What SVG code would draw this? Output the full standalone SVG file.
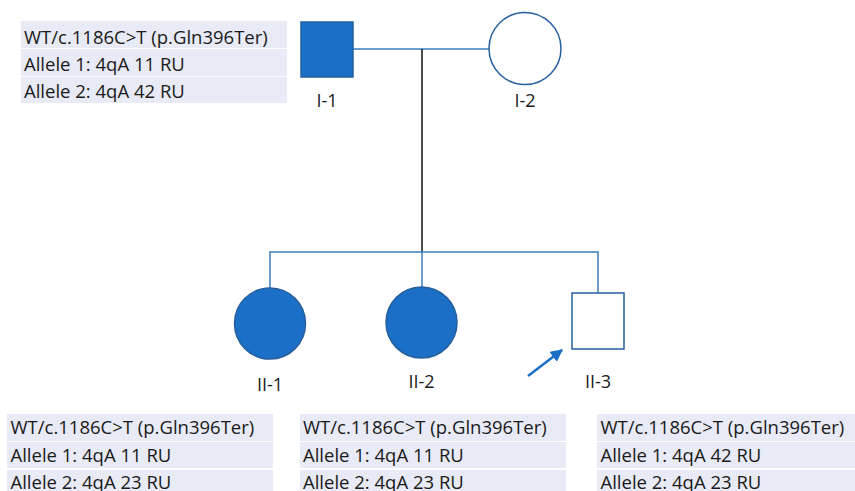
<svg xmlns="http://www.w3.org/2000/svg" width="855" height="491" viewBox="0 0 855 491">
<style>
  text { font-family: "Open Sans", "Noto Sans", "DejaVu Sans", sans-serif; fill: #1a1a1a; }
  .cell { fill: #e8eaf5; }
  .row { font-size: 18.5px; }
  .lbl { font-size: 18px; text-anchor: middle; }
  .aff { fill: #1b6fc6; stroke: #255f9e; stroke-width: 1.5; }
  .unaff { fill: #ffffff; stroke: #255f9e; stroke-width: 1.5; }
  .blue { stroke: #3a7cbf; stroke-width: 1.5; fill: none; }
  .black { stroke: #111111; stroke-width: 1.5; fill: none; }
</style>
<defs>
  <marker id="ah" viewBox="0 0 10 10" refX="9" refY="5" markerWidth="5" markerHeight="5" orient="auto" markerUnits="strokeWidth">
    <path d="M0,0 L10,5 L0,10 z" fill="#1b6fc6"/>
  </marker>
</defs>
<rect width="855" height="491" fill="#ffffff"/>

<g id="connectors">
  <line class="blue" x1="353" y1="49" x2="489" y2="49"/>
  <line class="black" x1="422" y1="49" x2="422" y2="252"/>
  <polyline class="blue" points="270,288 270,252 598,252 598,293"/>
  <line class="blue" x1="422" y1="252" x2="422" y2="287"/>
  <line x1="528" y1="376" x2="562" y2="350" stroke="#1b6fc6" stroke-width="2.5" marker-end="url(#ah)"/>
</g>

<g id="table-I-1">
  <rect class="cell" x="21" y="21" width="266" height="27"/>
  <rect class="cell" x="21" y="49" width="266" height="27"/>
  <rect class="cell" x="21" y="77" width="266" height="26"/>
  <text class="row" x="24" y="44">WT/c.1186C&gt;T (p.Gln396Ter)</text>
  <text class="row" x="24" y="71">Allele 1: 4qA 11 RU</text>
  <text class="row" x="24" y="98">Allele 2: 4qA 42 RU</text>
</g>

<g id="I-1">
  <rect class="aff" x="301" y="22" width="52" height="55"/>
  <text class="lbl" x="327" y="107">I-1</text>
</g>

<g id="I-2">
  <circle class="unaff" cx="525" cy="48.5" r="36"/>
  <text class="lbl" x="525" y="107">I-2</text>
</g>

<g id="II-1">
  <circle class="aff" cx="270" cy="323.5" r="35.5"/>
  <text class="lbl" x="270" y="391">II-1</text>
</g>

<g id="II-2">
  <circle class="aff" cx="421.5" cy="322.5" r="35.5"/>
  <text class="lbl" x="421.5" y="388">II-2</text>
</g>

<g id="II-3">
  <rect class="unaff" x="572" y="293" width="52" height="56"/>
  <text class="lbl" x="598" y="388">II-3</text>
</g>

<g id="table-II-1">
  <rect class="cell" x="7" y="414" width="266" height="27"/>
  <rect class="cell" x="7" y="442" width="266" height="26"/>
  <rect class="cell" x="7" y="470" width="266" height="21"/>
  <text class="row" x="10.5" y="434">WT/c.1186C&gt;T (p.Gln396Ter)</text>
  <text class="row" x="10.5" y="462">Allele 1: 4qA 11 RU</text>
  <text class="row" x="10.5" y="489">Allele 2: 4qA 23 RU</text>
</g>

<g id="table-II-2">
  <rect class="cell" x="300" y="414" width="266" height="27"/>
  <rect class="cell" x="300" y="442" width="266" height="26"/>
  <rect class="cell" x="300" y="470" width="266" height="21"/>
  <text class="row" x="303" y="434">WT/c.1186C&gt;T (p.Gln396Ter)</text>
  <text class="row" x="303" y="462">Allele 1: 4qA 11 RU</text>
  <text class="row" x="303" y="489">Allele 2: 4qA 23 RU</text>
</g>

<g id="table-II-3">
  <rect class="cell" x="597" y="414" width="258" height="27"/>
  <rect class="cell" x="597" y="442" width="258" height="26"/>
  <rect class="cell" x="597" y="470" width="258" height="21"/>
  <text class="row" x="600.5" y="434">WT/c.1186C&gt;T (p.Gln396Ter)</text>
  <text class="row" x="600.5" y="462">Allele 1: 4qA 42 RU</text>
  <text class="row" x="600.5" y="489">Allele 2: 4qA 23 RU</text>
</g>
</svg>
